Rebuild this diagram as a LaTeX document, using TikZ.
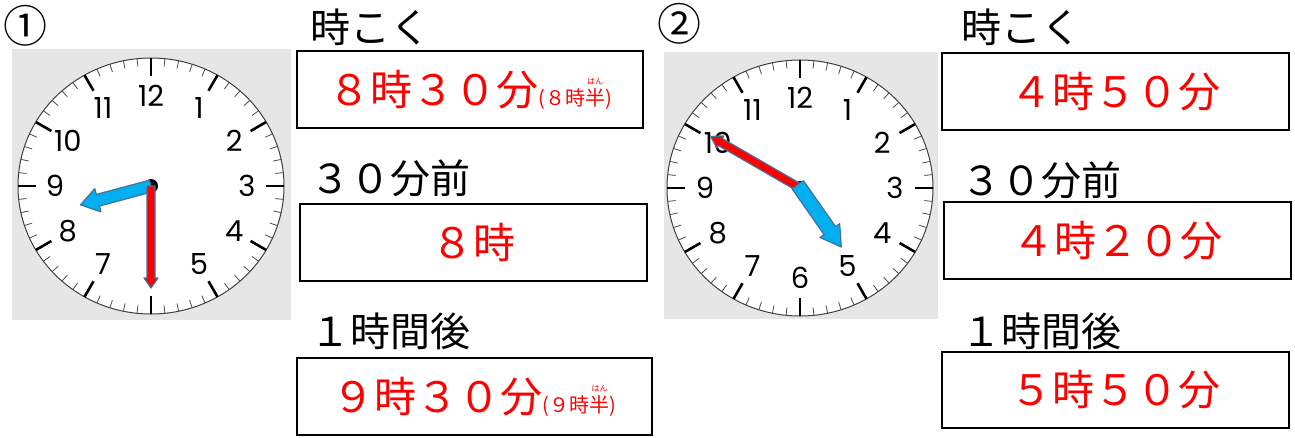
\documentclass[tikz,border=0pt]{standalone}
\usepackage{fontspec}
\setmainfont{Noto Sans CJK JP}
\newfontfamily\dialfont{Poppins}
\usetikzlibrary{calc}
\definecolor{handblue}{RGB}{0,176,240}
\definecolor{handedge}{RGB}{65,113,156}
\definecolor{panelgrey}{RGB}{230,230,230}
\newcommand{\furigana}[2]{\leavevmode\vbox{\offinterlineskip\halign{\hfil##\hfil\cr{\fontsize{8}{8}\selectfont #2}\cr\noalign{\kern4pt}#1\cr}}}
\tikzset{
  timebox/.style={draw, line width=2.2pt, inner sep=0pt, text=red, font=\fontsize{42}{42}\selectfont},
  headtext/.style={anchor=west, inner sep=0pt, font=\fontsize{40}{40}\selectfont},
  dialnum/.style={inner sep=0pt, font=\dialfont\fontsize{29}{29}\selectfont},
  hourhand/.style={fill=handblue, draw=handedge, line width=1.2pt, line join=round},
  minutehand/.style={fill=red, draw=handedge, line width=1.2pt, line join=round},
}
\begin{document}
\begin{tikzpicture}[x=1pt,y=-1pt]
\useasboundingbox (0,0) rectangle (1295,437);

% Panels
\fill[panelgrey] (12,49) rectangle (291,320);
\fill[panelgrey] (664,52) rectangle (938,319);
\coordinate (c1) at (151,186);
\coordinate (c2) at (800,188);

% Clock faces
\foreach \c in {c1,c2} {
  \draw[fill=white, line width=1pt, draw=black!75] (\c) ellipse [x radius=133, y radius=128];
  \foreach \m in {0,...,59}
    \draw[line width=0.8pt, black!70] ($(\c)+({133*sin(6*\m)},{-128*cos(6*\m)})$) -- ($(\c)+({125*sin(6*\m)},{-120*cos(6*\m)})$);
  \foreach \h in {0,...,11}
    \draw[line width=2.6pt] ($(\c)+({133*sin(30*\h)},{-128*cos(30*\h)})$) -- ($(\c)+({115*sin(30*\h)},{-110*cos(30*\h)})$);
}

% Numbers
\foreach \n in {1,2,3,4,5,7,8,9,10,11,12}
  \node[dialnum] (a\n) at ($(c1)+({96*sin(30*\n)},{-90*cos(30*\n)})$) {\n};
\foreach \n in {1,...,12}
  \node[dialnum] (b\n) at ($(c2)+({95*sin(30*\n)},{-90*cos(30*\n)})$) {\n};

% Hands, clock 1
\fill (c1) circle (7);
\begin{scope}[shift={(c1)}, rotate=195]
  \filldraw[hourhand] (0,-6) -- (55,-6) -- (55,-12) -- (73,0) -- (55,12) -- (55,6) -- (0,6) -- cycle;
\end{scope}
\begin{scope}[shift={(c1)}, rotate=270]
  \filldraw[minutehand] (0,-4) -- (92,-4) -- (92,-7) -- (102,0) -- (92,7) -- (92,4) -- (0,4) -- cycle;
\end{scope}

% Hands, clock 2
\fill (c2) circle (7);
\begin{scope}[shift={(c2)}, rotate=150]
  \filldraw[minutehand] (0,-4) -- (92,-4) -- (92,-7) -- (103,0) -- (92,7) -- (92,4) -- (0,4) -- cycle;
\end{scope}
\begin{scope}[shift={(c2)}, rotate=305]
  \filldraw[hourhand] (-4,-7) -- (52,-7) -- (52,-12) -- (72,0) -- (52,12) -- (52,7) -- (-4,7) -- cycle;
\end{scope}

% Problem marks
\node[inner sep=0pt, font=\fontsize{44}{44}\selectfont] (no1) at (26,26) {①};
\node[inner sep=0pt, font=\fontsize{44}{44}\selectfont] (no2) at (679,24) {②};

% Column 1
\node[headtext] (h1a) at (310,27) {時こく};
\node[timebox, minimum width=346, minimum height=77] (t1a) at (470,89.5)
  {８時３０分{\fontsize{20}{20}\selectfont (８時\furigana{半}{はん})}};
\node[headtext] (h1b) at (310,178) {３０分前};
\node[timebox, minimum width=347, minimum height=77] (t1b) at (473.5,242.5) {８時};
\node[headtext] (h1c) at (310,331) {１時間後};
\node[timebox, minimum width=355, minimum height=77] (t1c) at (474.5,396.5)
  {９時３０分{\fontsize{20}{20}\selectfont (９時\furigana{半}{はん})}};

% Column 2
\node[headtext] (h2a) at (961,27) {時こく};
\node[timebox, minimum width=347, minimum height=77] (t2a) at (1115.5,91.5) {４時５０分};
\node[headtext] (h2b) at (961,180) {３０分前};
\node[timebox, minimum width=347, minimum height=77] (t2b) at (1117.5,240.5) {４時２０分};
\node[headtext] (h2c) at (961,331) {１時間後};
\node[timebox, minimum width=347, minimum height=76] (t2c) at (1115.5,390) {５時５０分};
\end{tikzpicture}
\end{document}
